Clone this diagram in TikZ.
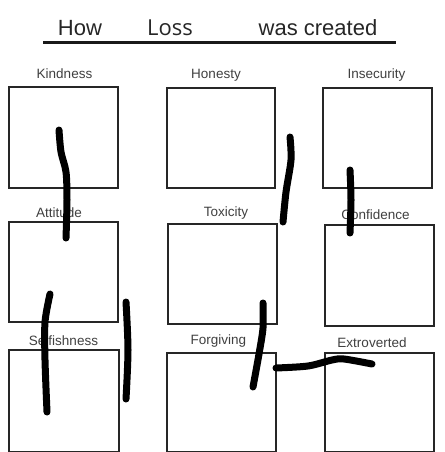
\documentclass[tikz,border=0pt]{standalone}
\usepackage{fontspec}
\setmainfont{Liberation Sans}
\newfontfamily\lossfont{Open Sans}
\begin{document}
\begin{tikzpicture}[x=1pt,y=-1pt,
  cell/.style={draw=black!85,line width=1.8pt,inner sep=0pt,anchor=north west},
  lbl/.style={text=black!75,font=\fontsize{13.5}{14}\selectfont,anchor=base,inner sep=0pt},
  ttl/.style={text=black!85,font=\fontsize{22}{24}\selectfont,anchor=base,inner sep=0pt},
  scrib/.style={line width=7pt,line cap=round,line join=round,black}]
\useasboundingbox[fill=white] (0,0) rectangle (444,452);
% title
\node[ttl] (how) at (80,36) {How};
\node[ttl,font=\lossfont\fontsize{22}{24}\selectfont] (loss) at (170,36) {Loss};
\node[ttl] (was) at (318,36) {was created};
\coordinate (ul1) at (43,43);
\coordinate (ul2) at (396,43);
\draw[line width=3pt,black!90] (ul1) -- (ul2);
% boxes
\node[cell,minimum width=109pt,minimum height=101pt] (kind) at (8,86) {};
\node[cell,minimum width=108pt,minimum height=100pt] (hon) at (166,87) {};
\node[cell,minimum width=109pt,minimum height=100pt] (insec) at (322,87) {};
\node[cell,minimum width=109pt,minimum height=100pt] (att) at (8,221) {};
\node[cell,minimum width=109pt,minimum height=100pt] (tox) at (167,223) {};
\node[cell,minimum width=109pt,minimum height=101pt] (conf) at (324,224) {};
\node[cell,minimum width=110pt,minimum height=102pt] (self) at (8,349) {};
\node[cell,minimum width=109pt,minimum height=99pt] (forg) at (166,352) {};
\node[cell,minimum width=109pt,minimum height=99pt] (extr) at (324,352) {};
% labels
\node[lbl] (lkind) at (64.5,78) {Kindness};
\node[lbl] (lhon) at (216,78) {Honesty};
\node[lbl] (linsec) at (376.5,78) {Insecurity};
\node[lbl] (latt) at (59,217) {Attitude};
\node[lbl] (ltox) at (226,216) {Toxicity};
\node[lbl] (lconf) at (375.5,219) {Confidence};
\node[lbl] (lself) at (63.5,345) {Selfishness};
\node[lbl] (lforg) at (218.5,344) {Forgiving};
\node[lbl] (lextr) at (372,347) {Extroverted};
% scribbles
\draw[scrib] plot[smooth] coordinates {(59,130) (61,152) (66,172) (67,200) (66,238)};
\draw[scrib] plot[smooth] coordinates {(290,137) (291,160) (286,192) (283,222)};
\draw[scrib] plot[smooth] coordinates {(350,170) (351,200) (350,233)};
\draw[scrib] plot[smooth] coordinates {(50,294) (45,322) (45,360) (47,412)};
\draw[scrib] plot[smooth] coordinates {(126,302) (128,350) (126,399)};
\draw[scrib] plot[smooth] coordinates {(263,303) (263,328) (259,354) (253,387)};
\draw[scrib] plot[smooth] coordinates {(276,368) (308,366) (332,360) (344,359) (372,364)};
\end{tikzpicture}
\end{document}
